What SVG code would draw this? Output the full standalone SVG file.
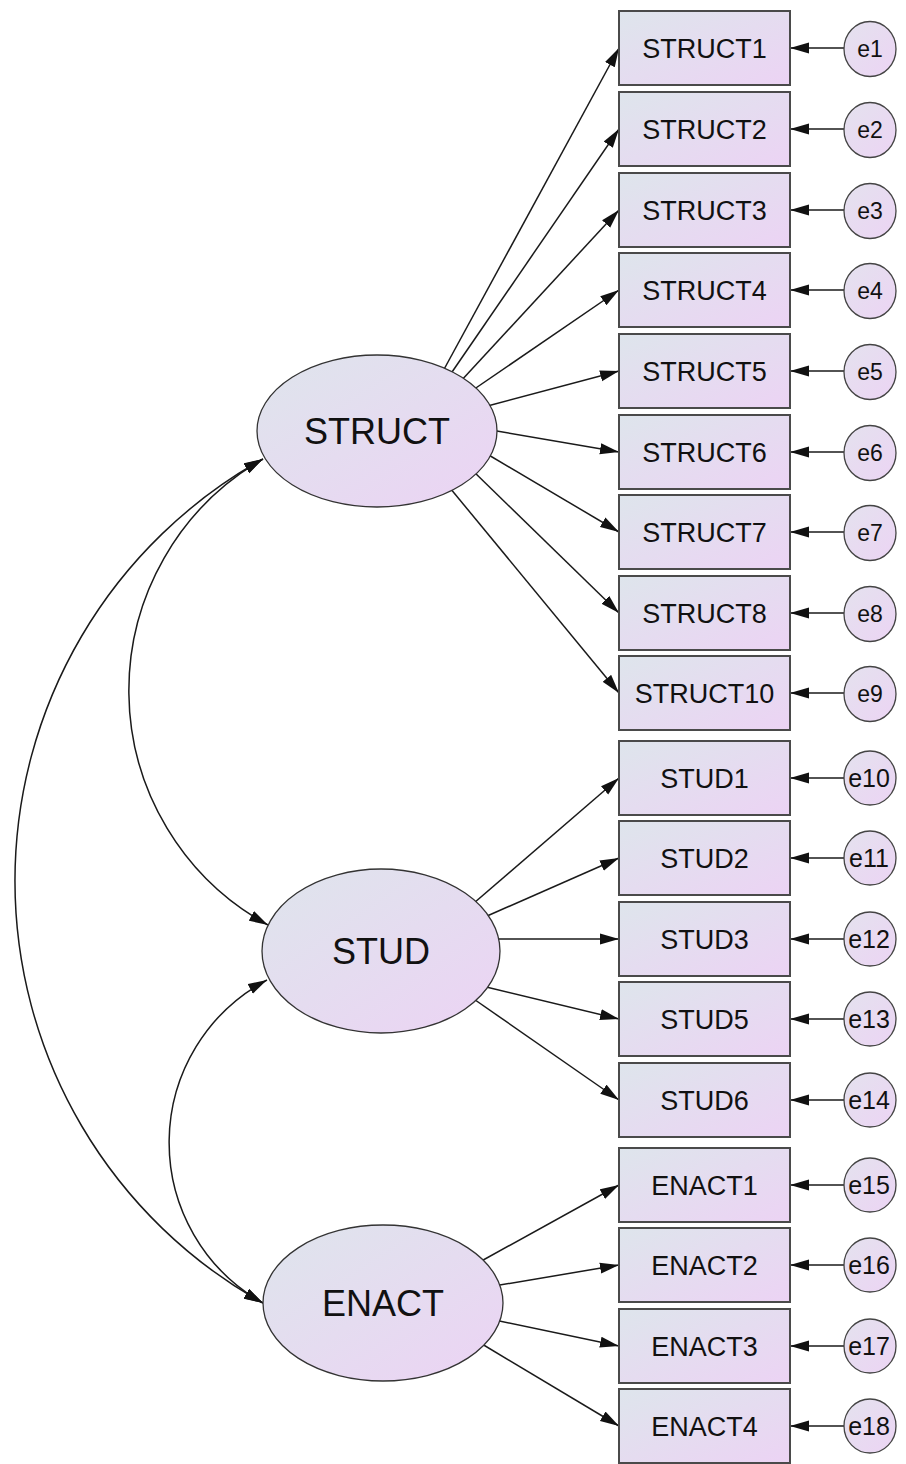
<svg xmlns="http://www.w3.org/2000/svg" width="906" height="1464" viewBox="0 0 906 1464">
  <defs>
    <linearGradient id="fillGrad" x1="0" y1="0" x2="1" y2="1">
      <stop offset="0" stop-color="#dee5ec"/>
      <stop offset="1" stop-color="#ecd3f4"/>
    </linearGradient>
    <linearGradient id="errGrad" x1="0" y1="0" x2="1" y2="1">
      <stop offset="0" stop-color="#e4e2ee"/>
      <stop offset="1" stop-color="#ecd4f4"/>
    </linearGradient>
    <marker id="arrow" viewBox="0 0 19 12" markerWidth="19" markerHeight="12" refX="19" refY="6" orient="auto-start-reverse" markerUnits="userSpaceOnUse">
      <path d="M0,0.5 L19,6 L0,11.5 Z" fill="#111"/>
    </marker>
    <style>
      .obs { fill: url(#fillGrad); stroke: #4a4a4a; stroke-width: 2; }
      .lat { fill: url(#fillGrad); stroke: #333; stroke-width: 1.3; }
      .err { fill: url(#errGrad); stroke: #444; stroke-width: 1.3; }
      .path { fill: none; stroke: #1a1a1a; stroke-width: 1.5; marker-end: url(#arrow); }
      .cov { fill: none; stroke: #1a1a1a; stroke-width: 1.5; marker-start: url(#arrow); marker-end: url(#arrow); }
      text { font-family: "Liberation Sans", Arial, sans-serif; fill: #111; text-anchor: middle; }
      .tl { font-size: 36px; }
      .tb { font-size: 27px; }
      .te { font-size: 23px; }
      .te2 { font-size: 25px; }
    </style>
  </defs>

  <!-- connectors: loadings, error paths and covariances -->
  <g id="connectors">
    <!-- STRUCT loadings -->
    <path class="path" d="M442,373 L619,48"/>
    <path class="path" d="M450,375 L619,129"/>
    <path class="path" d="M460,382 L619,210"/>
    <path class="path" d="M470,392 L619,290"/>
    <path class="path" d="M480,408 L619,371"/>
    <path class="path" d="M485,429 L619,452"/>
    <path class="path" d="M482,451 L619,532"/>
    <path class="path" d="M471,469 L619,613"/>
    <path class="path" d="M450,488 L619,693"/>
    <!-- STUD loadings -->
    <path class="path" d="M467,909 L619,778"/>
    <path class="path" d="M478,920 L619,858"/>
    <path class="path" d="M488,939 L619,939"/>
    <path class="path" d="M478,985 L619,1019"/>
    <path class="path" d="M468,995 L619,1100"/>
    <!-- ENACT loadings -->
    <path class="path" d="M476,1264 L619,1185"/>
    <path class="path" d="M488,1287 L619,1265"/>
    <path class="path" d="M490,1319 L619,1346"/>
    <path class="path" d="M477,1341 L619,1426"/>
    <!-- error terms -->
    <path class="path" d="M844,48 L790,48"/>
    <path class="path" d="M844,129 L790,129"/>
    <path class="path" d="M844,210 L790,210"/>
    <path class="path" d="M844,290 L790,290"/>
    <path class="path" d="M844,371 L790,371"/>
    <path class="path" d="M844,452 L790,452"/>
    <path class="path" d="M844,532 L790,532"/>
    <path class="path" d="M844,613 L790,613"/>
    <path class="path" d="M844,693 L790,693"/>
    <path class="path" d="M844,778 L790,778"/>
    <path class="path" d="M844,858 L790,858"/>
    <path class="path" d="M844,939 L790,939"/>
    <path class="path" d="M844,1019 L790,1019"/>
    <path class="path" d="M844,1100 L790,1100"/>
    <path class="path" d="M844,1185 L790,1185"/>
    <path class="path" d="M844,1265 L790,1265"/>
    <path class="path" d="M844,1346 L790,1346"/>
    <path class="path" d="M844,1426 L790,1426"/>
    <!-- covariances -->
    <path class="cov" d="M263,459 A267,267 0 0 0 268,925"/>
    <path class="cov" d="M263,459 A483,483 0 0 0 263,1303"/>
    <path class="cov" d="M267,980 A184,184 0 0 0 263,1303"/>
  </g>

  <!-- latent variables -->
  <g id="STRUCT">
    <ellipse class="lat" cx="377" cy="431" rx="120" ry="76"/>
    <text class="tl" x="377" y="444">STRUCT</text>
  </g>
  <g id="STUD">
    <ellipse class="lat" cx="381" cy="951" rx="119" ry="82"/>
    <text class="tl" x="381" y="964">STUD</text>
  </g>
  <g id="ENACT">
    <ellipse class="lat" cx="383" cy="1303" rx="120" ry="78"/>
    <text class="tl" x="383" y="1316">ENACT</text>
  </g>

  <!-- observed indicators -->
  <g id="STRUCT1"><rect class="obs" x="619" y="11" width="171" height="74"/><text class="tb" x="704.5" y="58">STRUCT1</text></g>
  <g id="STRUCT2"><rect class="obs" x="619" y="92" width="171" height="74"/><text class="tb" x="704.5" y="139">STRUCT2</text></g>
  <g id="STRUCT3"><rect class="obs" x="619" y="173" width="171" height="74"/><text class="tb" x="704.5" y="220">STRUCT3</text></g>
  <g id="STRUCT4"><rect class="obs" x="619" y="253" width="171" height="74"/><text class="tb" x="704.5" y="300">STRUCT4</text></g>
  <g id="STRUCT5"><rect class="obs" x="619" y="334" width="171" height="74"/><text class="tb" x="704.5" y="381">STRUCT5</text></g>
  <g id="STRUCT6"><rect class="obs" x="619" y="415" width="171" height="74"/><text class="tb" x="704.5" y="462">STRUCT6</text></g>
  <g id="STRUCT7"><rect class="obs" x="619" y="495" width="171" height="74"/><text class="tb" x="704.5" y="542">STRUCT7</text></g>
  <g id="STRUCT8"><rect class="obs" x="619" y="576" width="171" height="74"/><text class="tb" x="704.5" y="623">STRUCT8</text></g>
  <g id="STRUCT10"><rect class="obs" x="619" y="656" width="171" height="74"/><text class="tb" x="704.5" y="703">STRUCT10</text></g>
  <g id="STUD1"><rect class="obs" x="619" y="741" width="171" height="74"/><text class="tb" x="704.5" y="788">STUD1</text></g>
  <g id="STUD2"><rect class="obs" x="619" y="821" width="171" height="74"/><text class="tb" x="704.5" y="868">STUD2</text></g>
  <g id="STUD3"><rect class="obs" x="619" y="902" width="171" height="74"/><text class="tb" x="704.5" y="949">STUD3</text></g>
  <g id="STUD5"><rect class="obs" x="619" y="982" width="171" height="74"/><text class="tb" x="704.5" y="1029">STUD5</text></g>
  <g id="STUD6"><rect class="obs" x="619" y="1063" width="171" height="74"/><text class="tb" x="704.5" y="1110">STUD6</text></g>
  <g id="ENACT1"><rect class="obs" x="619" y="1148" width="171" height="74"/><text class="tb" x="704.5" y="1195">ENACT1</text></g>
  <g id="ENACT2"><rect class="obs" x="619" y="1228" width="171" height="74"/><text class="tb" x="704.5" y="1275">ENACT2</text></g>
  <g id="ENACT3"><rect class="obs" x="619" y="1309" width="171" height="74"/><text class="tb" x="704.5" y="1356">ENACT3</text></g>
  <g id="ENACT4"><rect class="obs" x="619" y="1389" width="171" height="74"/><text class="tb" x="704.5" y="1436">ENACT4</text></g>

  <!-- error terms -->
  <g id="e1"><ellipse class="err" cx="870" cy="49" rx="26" ry="27.5"/><text class="te" x="870" y="57">e1</text></g>
  <g id="e2"><ellipse class="err" cx="870" cy="130" rx="26" ry="27.5"/><text class="te" x="870" y="138">e2</text></g>
  <g id="e3"><ellipse class="err" cx="870" cy="211" rx="26" ry="27.5"/><text class="te" x="870" y="219">e3</text></g>
  <g id="e4"><ellipse class="err" cx="870" cy="291" rx="26" ry="27.5"/><text class="te" x="870" y="299">e4</text></g>
  <g id="e5"><ellipse class="err" cx="870" cy="372" rx="26" ry="27.5"/><text class="te" x="870" y="380">e5</text></g>
  <g id="e6"><ellipse class="err" cx="870" cy="453" rx="26" ry="27.5"/><text class="te" x="870" y="461">e6</text></g>
  <g id="e7"><ellipse class="err" cx="870" cy="533" rx="26" ry="27.5"/><text class="te" x="870" y="541">e7</text></g>
  <g id="e8"><ellipse class="err" cx="870" cy="614" rx="26" ry="27.5"/><text class="te" x="870" y="622">e8</text></g>
  <g id="e9"><ellipse class="err" cx="870" cy="694" rx="26" ry="27.5"/><text class="te" x="870" y="702">e9</text></g>
  <g id="e10"><ellipse class="err" cx="870" cy="778" rx="26" ry="27"/><text class="te2" x="869" y="787">e10</text></g>
  <g id="e11"><ellipse class="err" cx="870" cy="858" rx="26" ry="27"/><text class="te2" x="869" y="867">e11</text></g>
  <g id="e12"><ellipse class="err" cx="870" cy="939" rx="26" ry="27"/><text class="te2" x="869" y="948">e12</text></g>
  <g id="e13"><ellipse class="err" cx="870" cy="1019" rx="26" ry="27"/><text class="te2" x="869" y="1028">e13</text></g>
  <g id="e14"><ellipse class="err" cx="870" cy="1100" rx="26" ry="27"/><text class="te2" x="869" y="1109">e14</text></g>
  <g id="e15"><ellipse class="err" cx="870" cy="1185" rx="26" ry="27"/><text class="te2" x="869" y="1194">e15</text></g>
  <g id="e16"><ellipse class="err" cx="870" cy="1265" rx="26" ry="27"/><text class="te2" x="869" y="1274">e16</text></g>
  <g id="e17"><ellipse class="err" cx="870" cy="1346" rx="26" ry="27"/><text class="te2" x="869" y="1355">e17</text></g>
  <g id="e18"><ellipse class="err" cx="870" cy="1426" rx="26" ry="27"/><text class="te2" x="869" y="1435">e18</text></g>
</svg>
